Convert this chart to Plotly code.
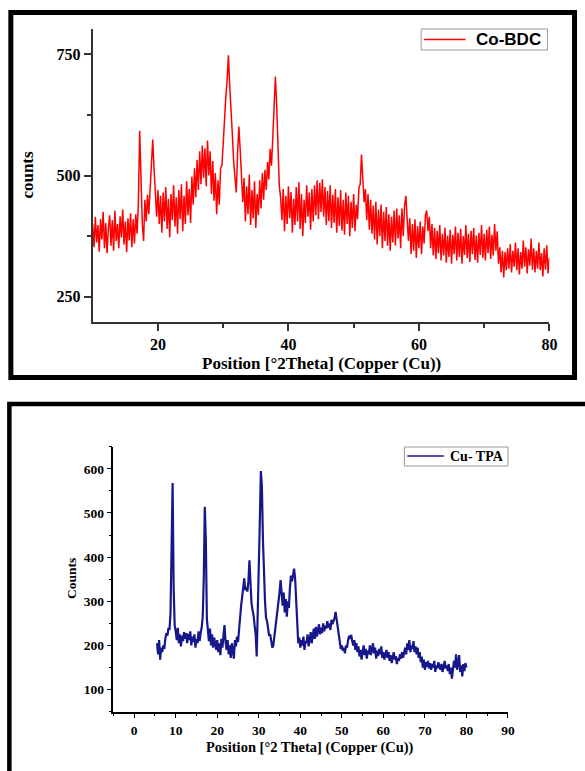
import numpy as np
import plotly.graph_objects as go

# ---------------- data ----------------
co_bdc_label = "Co-BDC"
co_bdc_x_start, co_bdc_x_end = 10.0, 80.0
co_bdc_counts = [
    400, 352, 415, 362, 398, 343, 410, 368, 425, 350, 402, 340, 392, 418, 355, 408, 345, 428, 365, 400,
    350, 416, 372, 430, 358, 405, 342, 412, 366, 422, 352, 410, 360, 420, 380,
    445, 592, 495, 400, 365, 450, 405, 460, 420, 478, 545, 574, 515, 460, 415,
    470, 400, 458, 382, 465, 405, 476, 390, 452, 372, 462, 408, 480, 395, 455, 380, 470, 410, 482, 385,
    458, 400, 488, 418, 472, 402, 498, 440, 515, 455, 532, 470, 550, 482, 562, 495, 556, 478, 572, 500,
    550, 462, 530, 448, 505, 420, 490, 440, 515, 520,
    565, 625, 662, 695, 748, 685, 618, 585, 530, 500, 465, 545, 601, 555, 490, 445, 495, 405, 478, 420,
    502, 398, 470, 412, 488, 392, 462, 418, 490, 432, 505, 450, 512, 470, 528, 492, 555, 520, 578, 640,
    704, 645, 548, 478, 455, 408, 472, 385, 458, 400,
    478, 412, 466, 382, 452, 398, 476, 405, 486, 390, 462, 375, 450, 402, 480, 415, 465, 388, 472, 405,
    480, 418, 490, 410, 485, 425, 492, 415, 476, 398, 468, 406, 480, 392, 460, 402, 472, 382, 455, 396,
    470, 386, 450, 378, 465, 400, 458, 375, 446, 392,
    462, 385, 440, 410, 475, 482, 543, 500, 445, 472, 408, 462, 388, 450, 380, 438, 368, 446, 358, 430,
    375, 440, 350, 425, 365, 435, 355, 420, 345, 415, 362, 428, 356, 432, 370, 418, 350, 432, 375, 438,
    458, 410, 365, 412, 338, 400, 345, 410, 330, 396,
    350, 405, 338, 395, 360, 418, 428, 385, 415, 350, 400, 335, 392, 328, 386, 340, 398, 325, 380, 335,
    392, 320, 376, 332, 388, 318, 378, 338, 395, 325, 382, 332, 390, 318, 375, 336, 398, 330, 380, 322,
    386, 338, 392, 326, 376, 320, 382, 336, 398, 330,
    380, 325, 388, 340, 395, 328, 378, 335, 400, 345, 385, 318, 352, 300, 345, 290, 342, 305, 350, 308,
    358, 300, 345, 312, 362, 305, 350, 296, 342, 308, 366, 312, 352, 298, 348, 314, 370, 306, 350, 300,
    345, 308, 362, 305, 340, 292, 350, 306, 356, 298,
    330,
]

cu_tpa_label = "Cu- TPA"
cu_tpa_x_start, cu_tpa_x_end = 5.5, 80.0
cu_tpa_counts = [
    205, 180, 212, 168, 195, 185, 200, 192, 215, 228, 222, 240, 235, 275, 420, 568, 330, 245, 232, 212,
    240, 205, 225, 198, 222, 210, 230, 215, 228, 205, 226, 212, 232, 200, 220, 208, 225, 195, 215, 205,
    232, 210, 228, 240, 265, 350, 514, 440, 260, 232, 210, 238, 200, 225, 195, 218, 205, 190, 212, 185,
    205, 178, 215, 195, 222, 246, 208, 190, 212, 180, 200, 172, 205, 185, 170, 212, 198, 220, 208, 235,
    275, 290, 310, 330, 352, 325, 332, 322, 345, 393, 340, 295, 280, 268, 245, 225, 175, 260, 350, 480,
    595, 560, 440, 340, 300, 262, 255, 238, 222, 225, 210, 195, 200, 218, 240, 262, 275, 300, 320, 348,
    322, 290, 320, 275, 305, 265, 300, 285, 330, 358, 345, 362, 374, 352, 300, 240, 205, 218, 195, 212,
    200, 220, 190, 210, 205, 225, 198, 212, 230, 205, 225, 238, 215, 242, 220, 235, 248, 225, 240, 228,
    250, 232, 245, 238, 255, 240, 250, 235, 258, 248, 255, 262, 276, 258, 245, 225, 205, 192, 200, 188,
    195, 182, 200, 195, 212, 222, 215, 224, 210, 200, 212, 190, 205, 185, 198, 175, 190, 168, 185, 200,
    178, 192, 170, 188, 180, 200, 178, 195, 205, 182, 195, 170, 188, 176, 192, 180, 198, 172, 185, 168,
    180, 190, 172, 185, 165, 178, 160, 175, 185, 168, 176, 158, 172, 165, 180, 170, 185, 172, 182, 195,
    180, 205, 190, 212, 185, 200, 192, 210, 185, 198, 180, 195, 172, 185, 162, 175, 150, 168, 145, 162,
    152, 165, 148, 160, 145, 158, 150, 165, 140, 155, 148, 162, 152, 145, 158, 140, 150, 165, 148, 155,
    142, 158, 135, 150, 125, 148, 165, 150, 180, 145, 170, 178, 140, 155, 130, 158, 142, 160, 150,
]

top_xticks = [20, 40, 60, 80]
top_yticks = [250, 500, 750]
bot_xticks = [0, 10, 20, 30, 40, 50, 60, 70, 80, 90]
bot_yticks = [100, 200, 300, 400, 500, 600]

top_xtitle = "Position [°2Theta] (Copper (Cu))"
top_ytitle = "counts"
bot_xtitle = "Position [°2 Theta] (Copper (Cu))"
bot_ytitle = "Counts"

co_color = "#ff0000"
cu_color = "#17178c"

# ---------------- figure ----------------
W, H = 585, 771


def px_x(p):
    return p / W


def px_y(p):
    return 1 - p / H


co_x = np.linspace(co_bdc_x_start, co_bdc_x_end, len(co_bdc_counts))
cu_x = np.linspace(cu_tpa_x_start, cu_tpa_x_end, len(cu_tpa_counts))

fig = go.Figure()
fig.add_trace(go.Scatter(
    x=co_x, y=co_bdc_counts, mode="lines", name=co_bdc_label, showlegend=False,
    line=dict(color=co_color, width=1.5), xaxis="x", yaxis="y",
))
fig.add_trace(go.Scatter(
    x=cu_x, y=cu_tpa_counts, mode="lines", name=cu_tpa_label, showlegend=False,
    line=dict(color=cu_color, width=2.2), xaxis="x2", yaxis="y2",
))

serif_bold_top = dict(family="Liberation Serif", size=16, color="black", weight="bold")
serif_bold_bot = dict(family="Liberation Serif", size=13.5, color="black", weight="bold")

axis_common = dict(showgrid=False, zeroline=False, showline=True, ticks="outside", mirror=False)

shapes = [
    # panel frames
    dict(type="rect", xref="paper", yref="paper",
         x0=px_x(11), x1=px_x(582.5), y0=px_y(377.5), y1=px_y(12.5),
         line=dict(color="black", width=5)),
    dict(type="rect", xref="paper", yref="paper",
         x0=px_x(9.5), x1=px_x(600), y0=px_y(790), y1=px_y(404),
         line=dict(color="black", width=4.5)),
    # legend boxes
    dict(type="rect", xref="paper", yref="paper",
         x0=px_x(427), x1=px_x(555), y0=px_y(50), y1=px_y(29),
         line=dict(color="#9a9a9a", width=1), fillcolor="white"),
    dict(type="line", xref="paper", yref="paper",
         x0=px_x(430), x1=px_x(472), y0=px_y(39.5), y1=px_y(39.5),
         line=dict(color=co_color, width=1.5)),
    dict(type="rect", xref="paper", yref="paper",
         x0=px_x(410), x1=px_x(515), y0=px_y(466), y1=px_y(447),
         line=dict(color="#9a9a9a", width=1), fillcolor="white"),
    dict(type="line", xref="paper", yref="paper",
         x0=px_x(413), x1=px_x(450), y0=px_y(456), y1=px_y(456),
         line=dict(color=cu_color, width=1.5)),
]

fig.update_layout(
    width=W, height=H,
    margin=dict(l=0, r=0, t=0, b=0),
    paper_bgcolor="white", plot_bgcolor="white",
    showlegend=False,
    xaxis=dict(
        **axis_common, domain=[px_x(94), px_x(557)], range=[10, 80], anchor="y",
        tickvals=top_xticks, ticklen=7, tickwidth=1.5, linewidth=1.8, linecolor="#333",
        tickcolor="#333", tickfont=serif_bold_top,
        minor=dict(tickvals=[30, 50, 70], ticklen=4, tickwidth=1.5, tickcolor="#333", ticks="outside"),
    ),
    yaxis=dict(
        **axis_common, domain=[px_y(322), px_y(29)], range=[198, 802], anchor="x",
        tickvals=top_yticks, ticklen=7, tickwidth=1.5, linewidth=1.8, linecolor="#333",
        tickcolor="#333", tickfont=serif_bold_top,
        minor=dict(tickvals=[375, 625], ticklen=4, tickwidth=1.5, tickcolor="#333", ticks="outside"),
    ),
    xaxis2=dict(
        **axis_common, domain=[px_x(115), px_x(515)], range=[-5, 90], anchor="y2",
        tickvals=bot_xticks, ticklen=5, tickwidth=1.2, linewidth=1.5, linecolor="black",
        tickcolor="black", tickfont=serif_bold_bot,
        minor=dict(dtick=5, tick0=5, ticklen=3, tickwidth=1.2, tickcolor="black", ticks="outside"),
    ),
    yaxis2=dict(
        **axis_common, domain=[px_y(711.7), px_y(446.7)], range=[50, 650], anchor="x2",
        tickvals=bot_yticks, ticklen=5, tickwidth=1.2, linewidth=1.5, linecolor="black",
        tickcolor="black", tickfont=serif_bold_bot,
        minor=dict(dtick=50, tick0=50, ticklen=3, tickwidth=1.2, tickcolor="black", ticks="outside"),
    ),
    shapes=shapes,
    annotations=[
        dict(text=top_xtitle, xref="paper", yref="paper", x=px_x(326), y=px_y(363),
             showarrow=False, font=dict(family="Liberation Serif", size=17, color="black", weight="bold"),
             xanchor="center", yanchor="middle"),
        dict(text=top_ytitle, xref="paper", yref="paper", x=px_x(28), y=px_y(175),
             showarrow=False, textangle=-90,
             font=dict(family="Liberation Serif", size=17, color="black", weight="bold"),
             xanchor="center", yanchor="middle"),
        dict(text=bot_xtitle, xref="paper", yref="paper", x=px_x(314.5), y=px_y(747),
             showarrow=False, font=dict(family="Liberation Serif", size=14.5, color="black", weight="bold"),
             xanchor="center", yanchor="middle"),
        dict(text=bot_ytitle, xref="paper", yref="paper", x=px_x(72), y=px_y(579),
             showarrow=False, textangle=-90,
             font=dict(family="Liberation Serif", size=13.5, color="black", weight="bold"),
             xanchor="center", yanchor="middle"),
        # legend labels
        dict(text=co_bdc_label, xref="paper", yref="paper", x=px_x(515.5), y=px_y(39.5),
             showarrow=False, font=dict(family="Liberation Sans", size=17, color="black", weight="bold"),
             xanchor="center", yanchor="middle"),
        dict(text=cu_tpa_label, xref="paper", yref="paper", x=px_x(483.5), y=px_y(456),
             showarrow=False, font=dict(family="Liberation Serif", size=14, color="black", weight="bold"),
             xanchor="center", yanchor="middle"),
    ],
)

fig.write_html(
    "out.html",
    config={"displayModeBar": False},
    post_script="document.body.style.margin='0';document.body.style.overflow='hidden';",
)
